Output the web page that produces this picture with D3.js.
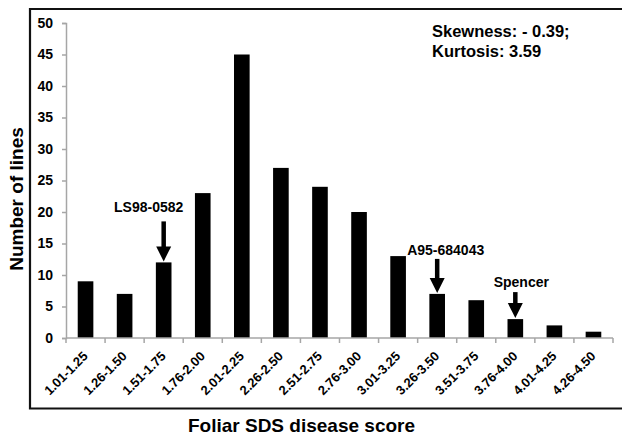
<!DOCTYPE html>
<html><head><meta charset="utf-8">
<script src="https://cdn.jsdelivr.net/npm/d3@7"></script>
<style>body{margin:0;background:#fff}svg{display:block}text{font-family:"Liberation Sans",Arial,sans-serif;font-weight:bold;fill:#000}</style>
</head><body>
<script>
const categories = ["1.01-1.25","1.26-1.50","1.51-1.75","1.76-2.00","2.01-2.25","2.26-2.50","2.51-2.75","2.76-3.00","3.01-3.25","3.26-3.50","3.51-3.75","3.76-4.00","4.01-4.25","4.26-4.50"];
const counts = [9,7,12,23,45,27,24,20,13,7,6,3,2,1];
const yTicks = [0,5,10,15,20,25,30,35,40,45,50];
const annotations = [
  {cat:"1.51-1.75", label:"LS98-0582", value:12},
  {cat:"3.26-3.50", label:"A95-684043", value:7},
  {cat:"3.76-4.00", label:"Spencer", value:3}
];
const statsText = ["Skewness: - 0.39;", "Kurtosis: 3.59"];

const W = 622, H = 435;
const svg = d3.select("body").append("svg").attr("width", W).attr("height", H);

// outer frame
svg.append("path").attr("d", `M${W+2},9 H30 V408.5 H${W+2}`).attr("fill","none").attr("stroke","#111").attr("stroke-width",2.2);

const x = d3.scaleBand().domain(categories).range([66, 613]).paddingInner(0.6).paddingOuter(0.3);
const y = d3.scaleLinear().domain([0, 50]).range([338, 23]);

// bars
svg.selectAll("rect.bar").data(categories).join("rect")
  .attr("x", d => x(d)).attr("width", x.bandwidth())
  .attr("y", (d,i) => y(counts[i])).attr("height", (d,i) => y(0) - y(counts[i]))
  .attr("fill", "#000");

// y axis
const yAxis = svg.append("g").attr("transform", "translate(66,0)")
  .call(d3.axisLeft(y).tickValues(yTicks).tickSize(4).tickPadding(9));
yAxis.select(".domain").attr("stroke", "#a6a6a6").attr("stroke-width", 1.5);
yAxis.selectAll(".tick line").attr("stroke", "#a6a6a6").attr("stroke-width", 1.5);
yAxis.selectAll("text").style("font-size", "14px").style("font-weight","bold")
  .style("font-family",'"Liberation Sans",Arial,sans-serif').attr("fill","#000");

// x axis: ticks between categories
const xb = d3.scaleLinear().domain([0, categories.length]).range([66, 613]);
const xAxisG = svg.append("g");
xAxisG.append("line").attr("x1", 66).attr("x2", 613).attr("y1", y(0)).attr("y2", y(0))
  .attr("stroke", "#a6a6a6").attr("stroke-width", 1.5);
xAxisG.selectAll("line.tk").data(d3.range(categories.length + 1)).join("line")
  .attr("x1", d => xb(d)).attr("x2", d => xb(d)).attr("y1", y(0)).attr("y2", y(0) + 5)
  .attr("stroke", "#a6a6a6").attr("stroke-width", 1.5);
xAxisG.selectAll("text").data(categories).join("text")
  .attr("transform", d => `translate(${x(d) + x.bandwidth()/2 + 3},${y(0) + 19}) rotate(-45)`)
  .attr("text-anchor", "end").style("font-size", "13px").text(d => d);

// axis titles
svg.append("text").attr("transform", "translate(23,199) rotate(-90)").attr("text-anchor","middle")
  .style("font-size","19px").text("Number of lines");
svg.append("text").attr("x", 301.5).attr("y", 432).attr("text-anchor","middle")
  .style("font-size","19px").text("Foliar SDS disease score");

// stats
svg.selectAll("text.stat").data(statsText).join("text")
  .attr("x", 432).attr("y", (d,i) => 37 + i*20).style("font-size","16.5px").text(d => d);

// annotations with arrows
const labelOffsets = {"LS98-0582":[-15, -50, -41], "A95-684043":[8.5, -39, -35], "Spencer":[6, -32, -27]};
annotations.forEach(a => {
  const cx = x(a.cat) + x.bandwidth()/2;
  const top = y(a.value);
  const off = labelOffsets[a.label];
  svg.append("text").attr("x", cx + off[0]).attr("y", top + off[1]).attr("text-anchor","middle")
    .style("font-size","14px").text(a.label);
  svg.append("line").attr("x1", cx).attr("x2", cx).attr("y1", top + off[2]).attr("y2", top - 13)
    .attr("stroke","#000").attr("stroke-width", 4.5);
  svg.append("path").attr("d", `M${cx-7.5},${top-16} L${cx+7.5},${top-16} L${cx},${top-1} Z`).attr("fill","#000");
});
</script>
</body></html>
